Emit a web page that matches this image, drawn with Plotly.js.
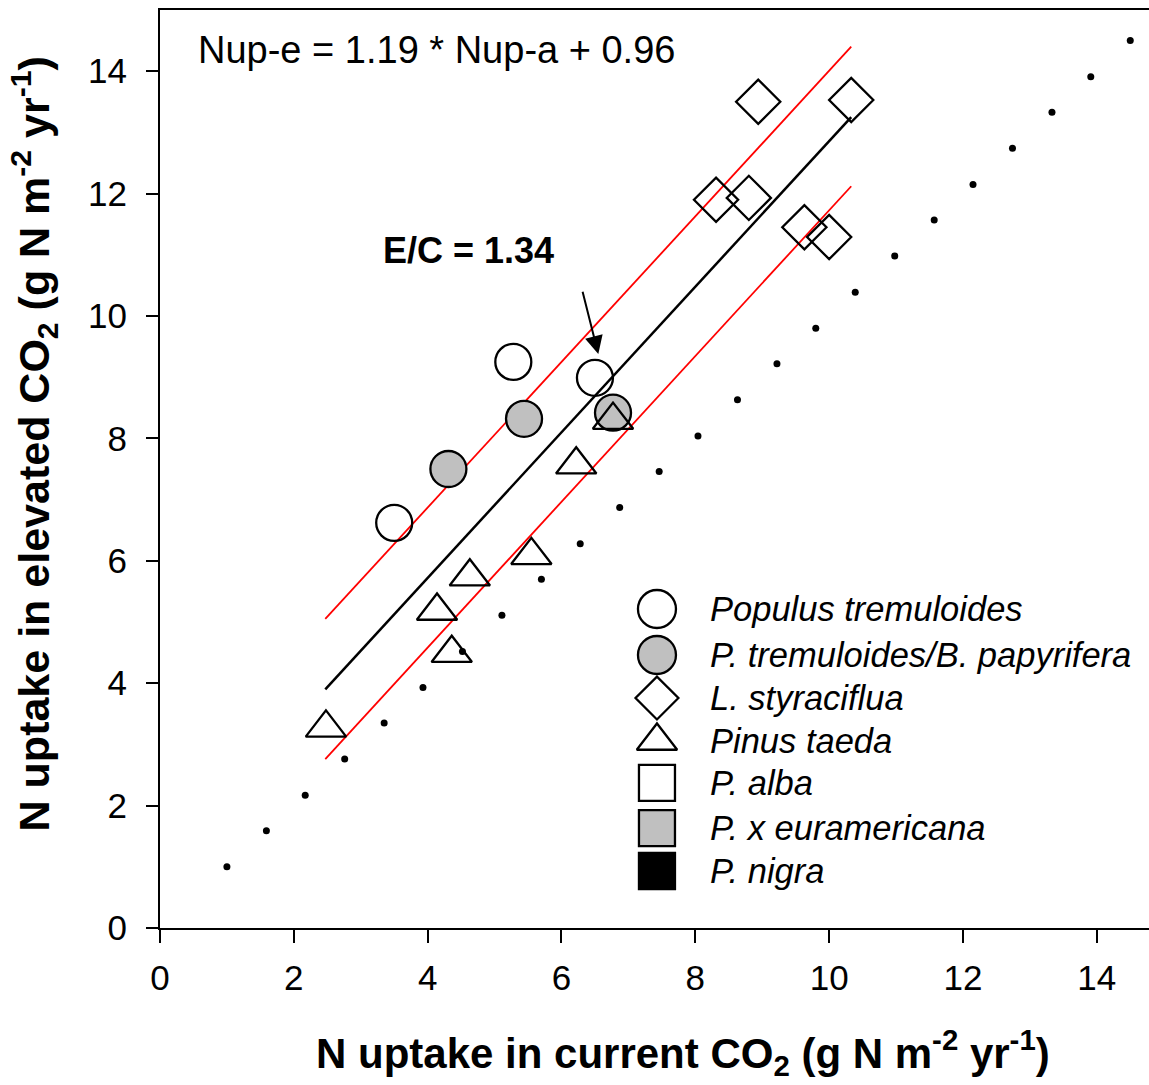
<!DOCTYPE html>
<html>
<head>
<meta charset="utf-8">
<script src="https://cdn.plot.ly/plotly-3.0.1.min.js"></script>
<style>
html, body { margin: 0; padding: 0; overflow: hidden; background: #fff; }
#chart { width: 1149px; height: 1085px; }
</style>
</head>
<body>
<div id="chart"></div>
<script>
// ---- data ----
const populusX = [3.50, 5.28, 6.50];
const populusY = [6.62, 9.25, 8.99];
const papyriferaX = [4.31, 5.44, 6.77];
const papyriferaY = [7.50, 8.32, 8.42];
const styracifluaX = [8.94, 10.33, 8.31, 8.80, 9.63, 10.00];
const styracifluaY = [13.50, 13.53, 11.90, 11.93, 11.45, 11.29];
const taedaX = [2.48, 4.14, 4.36, 4.63, 5.55, 6.22, 6.77];
const taedaY = [3.27, 5.18, 4.49, 5.74, 6.09, 7.57, 8.30];
const oneToOne = [1.00, 1.59, 2.17, 2.76, 3.35, 3.93, 4.52, 5.11, 5.70, 6.28, 6.87, 7.46,
                  8.04, 8.63, 9.22, 9.80, 10.39, 10.98, 11.57, 12.15, 12.74, 13.33, 13.91, 14.50];
const fitX = [2.47, 10.33];
const fitY = [3.90, 13.25];
const upperY = [5.05, 14.40];
const lowerY = [2.76, 12.12];
const tickVals = [0, 2, 4, 6, 8, 10, 12, 14];
const legendNames = ['Populus tremuloides', 'P. tremuloides/B. papyrifera', 'L. styraciflua',
                     'Pinus taeda', 'P. alba', 'P. x euramericana', 'P. nigra'];
const xTitle = '<b>N uptake in current CO<sub>2</sub> (g N m<sup>-2</sup> yr<sup>-1</sup>)</b>';
const yTitle = '<b>N uptake in elevated CO<sub>2</sub> (g N m<sup>-2</sup> yr<sup>-1</sup>)</b>';
const arrowTail = [6.31, 10.42];
const arrowTip = [6.55, 9.38];

// ---- styling ----
const FONT = 'Liberation Sans, Arial, Helvetica, sans-serif';
const GRAY = '#c0c0c0';
const legendSymbols = ['circle', 'circle', 'diamond', 'triangle-up', 'square', 'square', 'square'];
const legendFills = ['#ffffff', GRAY, '#ffffff', '#ffffff', '#ffffff', GRAY, '#000000'];
const legendSizes = [38, 38, 33, 35, 36, 36, 36];
const legendKeyX = 0.5025;
const legendTextX = 0.5541;
const legendRowY = [0.3475, 0.2974, 0.2505, 0.2037, 0.1580, 0.1089, 0.0621];

const traces = [
  { x: oneToOne, y: oneToOne, mode: 'markers', type: 'scatter',
    marker: { color: '#000', size: 7, opacity: 1 }, showlegend: false, hoverinfo: 'skip' },
  { x: fitX, y: upperY, mode: 'lines', type: 'scatter',
    line: { color: '#ff0000', width: 1.8 }, showlegend: false },
  { x: fitX, y: lowerY, mode: 'lines', type: 'scatter',
    line: { color: '#ff0000', width: 1.8 }, showlegend: false },
  { x: fitX, y: fitY, mode: 'lines', type: 'scatter',
    line: { color: '#000', width: 2.5 }, showlegend: false },
  { x: papyriferaX, y: papyriferaY, mode: 'markers', type: 'scatter', name: legendNames[1],
    marker: { symbol: 'circle', size: 36, color: GRAY, opacity: 1, line: { color: '#000', width: 2.3 } }, showlegend: false },
  { x: populusX, y: populusY, mode: 'markers', type: 'scatter', name: legendNames[0],
    marker: { symbol: 'circle-open', size: 36, color: '#000', opacity: 1, line: { color: '#000', width: 2.3 } }, showlegend: false },
  { x: styracifluaX, y: styracifluaY, mode: 'markers', type: 'scatter', name: legendNames[2],
    marker: { symbol: 'diamond-open', size: 34, color: '#000', opacity: 1, line: { color: '#000', width: 2.3 } }, showlegend: false },
  { x: taedaX, y: taedaY, mode: 'markers', type: 'scatter', name: legendNames[3],
    marker: { symbol: 'triangle-up-open', size: 35, color: '#000', opacity: 1, line: { color: '#000', width: 2.3 } }, showlegend: false },
  // hand-drawn legend keys on an overlay axis in plot-fraction units
  { x: legendRowY.map(() => legendKeyX), y: legendRowY, xaxis: 'x2', yaxis: 'y2',
    mode: 'markers', type: 'scatter', showlegend: false, hoverinfo: 'skip',
    marker: { symbol: legendSymbols, size: legendSizes, color: legendFills, opacity: 1,
              line: { color: '#000', width: 2.3 } } }
];

const annotations = legendNames.map((n, i) => ({
  xref: 'paper', yref: 'paper', x: legendTextX, y: legendRowY[i],
  xanchor: 'left', yanchor: 'middle', showarrow: false,
  text: '<i>' + n + '</i>', font: { family: FONT, size: 34.5, color: '#000' }
}));
annotations.push({
  xref: 'paper', yref: 'paper', x: 0.0364, y: 0.9564, xanchor: 'left', yanchor: 'middle',
  showarrow: false, text: 'Nup-e = 1.19 * Nup-a + 0.96',
  font: { family: FONT, size: 38, color: '#000' }
});
annotations.push({
  xref: 'paper', yref: 'paper', x: 0.2235, y: 0.7375, xanchor: 'left', yanchor: 'middle',
  showarrow: false, text: '<b>E/C = 1.34</b>',
  font: { family: FONT, size: 36, color: '#000' }
});
annotations.push({
  x: arrowTip[0], y: arrowTip[1], ax: arrowTail[0], ay: arrowTail[1],
  xref: 'x', yref: 'y', axref: 'x', ayref: 'y', text: '',
  showarrow: true, arrowhead: 2, arrowsize: 1.8, arrowwidth: 2, arrowcolor: '#000'
});
// axis titles (placed to match the cropped original figure)
annotations.push({
  xref: 'paper', yref: 'paper', x: 0.5288, y: -0.1355, xanchor: 'center', yanchor: 'middle',
  showarrow: false, text: xTitle, font: { family: FONT, size: 42, color: '#000' }
});
annotations.push({
  xref: 'paper', yref: 'paper', x: -0.1274, y: 0.5268, xanchor: 'center', yanchor: 'middle',
  textangle: -90, showarrow: false, text: yTitle, font: { family: FONT, size: 43, color: '#000' }
});

const layout = {
  width: 1149, height: 1085,
  margin: { l: 160, r: 0, t: 10, b: 157, pad: 0 },
  paper_bgcolor: '#fff', plot_bgcolor: '#fff',
  font: { family: FONT, color: '#000' },
  showlegend: false,
  xaxis: {
    range: [0, 14.78], tickvals: tickVals, ticktext: tickVals.map(String),
    showgrid: false, zeroline: false, showline: true, mirror: true,
    linecolor: '#000', linewidth: 2, ticks: 'outside', ticklen: 13, tickwidth: 2, tickcolor: '#000',
    tickfont: { family: FONT, size: 35, color: '#000' }, ticklabelstandoff: 5,
    automargin: false, fixedrange: true
  },
  yaxis: {
    range: [0, 15], tickvals: tickVals, ticktext: tickVals.map(String),
    showgrid: false, zeroline: false, showline: true, mirror: false,
    linecolor: '#000', linewidth: 2, ticks: 'outside', ticklen: 12, tickwidth: 2, tickcolor: '#000',
    tickfont: { family: FONT, size: 35, color: '#000' }, ticklabelstandoff: 12,
    automargin: false, fixedrange: true
  },
  xaxis2: { overlaying: 'x', range: [0, 1], visible: false, fixedrange: true },
  yaxis2: { overlaying: 'y', range: [0, 1], visible: false, fixedrange: true },
  annotations: annotations
};

Plotly.newPlot('chart', traces, layout, { displayModeBar: false, staticPlot: true });
</script>
</body>
</html>
